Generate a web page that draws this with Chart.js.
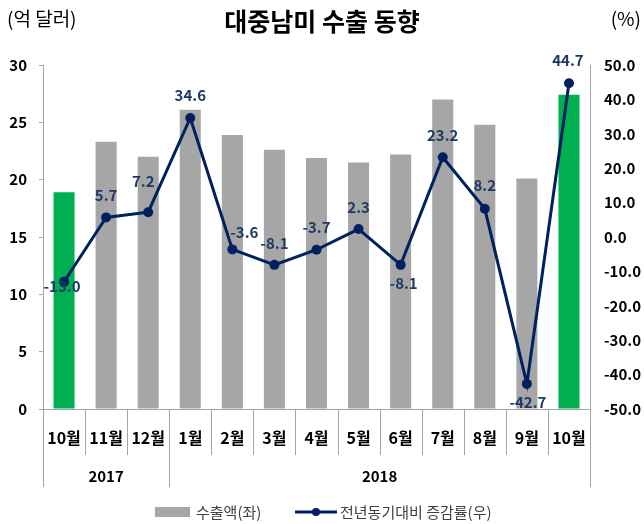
<!DOCTYPE html>
<html>
<head>
<meta charset="utf-8">
<script src="https://cdn.jsdelivr.net/npm/chart.js@4"></script>
<style>
  html, body { margin: 0; padding: 0; background: #fff; }
  #wrap { width: 644px; height: 524px; }
</style>
</head>
<body>
<div id="wrap"><canvas id="chart" width="644" height="524"></canvas></div>
<script>
// 데이터
const months = ['10월', '11월', '12월', '1월', '2월', '3월', '4월', '5월', '6월', '7월', '8월', '9월', '10월'];
const yearLabels = ['2017', '2018'];
const yearSpans = [3, 10];
const exports = [18.9, 23.3, 22.0, 26.1, 23.9, 22.6, 21.9, 21.5, 22.2, 27.0, 24.8, 20.1, 27.4];
const growth = [-13.0, 5.7, 7.2, 34.6, -3.6, -8.1, -3.7, 2.3, -8.1, 23.2, 8.2, -42.7, 44.7];
const leftTicks = [0, 5, 10, 15, 20, 25, 30];
const rightTicks = [-50, -40, -30, -20, -10, 0, 10, 20, 30, 40, 50];
const seriesNames = ['수출액(좌)', '전년동기대비 증감률(우)'];

const FONT = "'Noto Sans CJK KR', 'Noto Sans', sans-serif";
const NAVY = '#002060';
const LABEL_NAVY = '#1F3864';
const GRAY_BAR = '#A6A6A6';
const GREEN = '#00B050';
const AXIS = '#A6A6A6';

// 라벨 위치 보정 (dx, dy)
const labelShift = [
    [-2, 5], [0, -22], [-5, -31], [0, -23], [12, -17], [0, -22], [0, -22],
    [0, -22], [3, 18], [0, -22], [0, -23], [1, 18], [-1, -23]
];

const barColors = exports.map((v, i) => (i === 0 || i === exports.length - 1) ? GREEN : GRAY_BAR);

const extrasPlugin = {
    id: 'extras',
    afterDraw(chart) {
        const ctx = chart.ctx;
        const area = chart.chartArea;
        const x = chart.scales.x;
        const catW = x.getPixelForValue(1) - x.getPixelForValue(0);
        const start = x.getPixelForValue(0) - catW / 2;

        ctx.save();
        // 단위 표시
        ctx.fillStyle = '#000';
        ctx.font = '19px ' + FONT;
        ctx.textBaseline = 'middle';
        ctx.textAlign = 'left';
        ctx.fillText('(억 달러)', 7, 19);
        ctx.textAlign = 'right';
        ctx.fillText('(%)', 641, 19);

        // 월 구분선, 연도 구분선
        ctx.strokeStyle = AXIS;
        ctx.lineWidth = 1;
        const groupEdges = [0];
        yearSpans.forEach(n => groupEdges.push(groupEdges[groupEdges.length - 1] + n));
        for (let i = 0; i <= months.length; i++) {
            const px = Math.round(start + i * catW) + 0.5;
            const len = groupEdges.includes(i) ? 78 : 46;
            ctx.beginPath();
            ctx.moveTo(px, area.bottom);
            ctx.lineTo(px, area.bottom + len);
            ctx.stroke();
        }

        // 연도 라벨
        ctx.fillStyle = '#000';
        ctx.font = 'bold 15px ' + FONT;
        ctx.textAlign = 'center';
        for (let g = 0; g < yearLabels.length; g++) {
            const cx = start + (groupEdges[g] + groupEdges[g + 1]) / 2 * catW;
            ctx.fillText(yearLabels[g], cx, area.bottom + 67);
        }

        // 증감률 라벨
        const meta = chart.getDatasetMeta(1);
        ctx.fillStyle = LABEL_NAVY;
        ctx.font = 'bold 15px ' + FONT;
        meta.data.forEach((pt, i) => {
            const s = labelShift[i];
            ctx.fillText(growth[i].toFixed(1), pt.x + s[0], pt.y + s[1]);
        });

        // 범례
        const ly = 512;
        ctx.fillStyle = GRAY_BAR;
        ctx.fillRect(155, ly - 5, 35, 10);
        ctx.fillStyle = '#404040';
        ctx.font = '15px ' + FONT;
        ctx.textAlign = 'left';
        ctx.fillText(seriesNames[0], 196, ly);
        ctx.strokeStyle = NAVY;
        ctx.lineWidth = 3;
        ctx.beginPath();
        ctx.moveTo(295, ly);
        ctx.lineTo(337, ly);
        ctx.stroke();
        ctx.fillStyle = NAVY;
        ctx.beginPath();
        ctx.arc(316, ly, 4, 0, Math.PI * 2);
        ctx.fill();
        ctx.fillStyle = '#404040';
        ctx.fillText(seriesNames[1], 340, ly);
        ctx.restore();
    }
};

new Chart(document.getElementById('chart'), {
    data: {
        labels: months,
        datasets: [
            {
                type: 'bar',
                label: seriesNames[0],
                data: exports,
                backgroundColor: barColors,
                barPercentage: 0.5,
                categoryPercentage: 1.0,
                yAxisID: 'y',
                order: 2
            },
            {
                type: 'line',
                label: seriesNames[1],
                data: growth,
                borderColor: NAVY,
                backgroundColor: NAVY,
                borderWidth: 3,
                pointRadius: 5,
                pointBackgroundColor: NAVY,
                pointBorderWidth: 0,
                tension: 0,
                yAxisID: 'y1',
                order: 1
            }
        ]
    },
    options: {
        responsive: false,
        animation: false,
        layout: { padding: { left: 0, right: 0, top: 0, bottom: 30 } },
        plugins: {
            title: {
                display: true,
                text: '대중남미 수출 동향',
                color: '#000',
                font: { family: FONT, size: 25, weight: 'bold' },
                padding: { top: 6, bottom: 29 }
            },
            legend: { display: false },
            tooltip: { enabled: false }
        },
        scales: {
            x: {
                grid: { display: false, drawTicks: false },
                border: { display: true, color: AXIS },
                ticks: {
                    color: '#000',
                    font: { family: FONT, size: 16, weight: 'bold' },
                    padding: 19,
                    maxRotation: 0,
                    autoSkip: false
                },
                afterFit: function (scale) { scale.height = 85; }
            },
            y: {
                position: 'left',
                min: 0,
                max: 30,
                afterBuildTicks: function (scale) { scale.ticks = leftTicks.map(v => ({ value: v })); },
                grid: { drawOnChartArea: false, drawTicks: true, tickLength: 4, color: AXIS },
                border: { display: true, color: AXIS },
                ticks: {
                    color: '#000',
                    font: { family: FONT, size: 15, weight: 'bold' },
                    padding: 12
                },
                afterFit: function (scale) { scale.width = 43; }
            },
            y1: {
                position: 'right',
                min: -50,
                max: 50,
                afterBuildTicks: function (scale) { scale.ticks = rightTicks.map(v => ({ value: v })); },
                grid: { drawOnChartArea: false, drawTicks: false },
                border: { display: true, color: AXIS },
                ticks: {
                    color: '#000',
                    font: { family: FONT, size: 15, weight: 'bold' },
                    padding: 14,
                    callback: function (value) { return Number(value).toFixed(1); }
                },
                afterFit: function (scale) { scale.width = 54; }
            }
        }
    },
    plugins: [extrasPlugin]
});
</script>
</body>
</html>
